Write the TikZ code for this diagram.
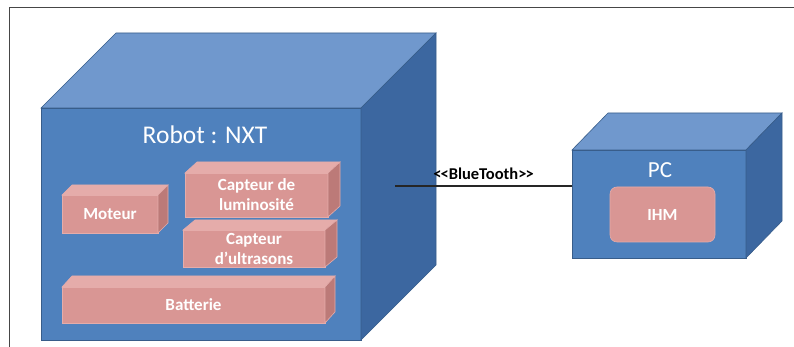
\documentclass[tikz,border=0pt]{standalone}
\usepackage{fontspec}
\setmainfont{Carlito}
\usetikzlibrary{calc,positioning}
\definecolor{frontB}{RGB}{79,129,189}
\definecolor{topB}{RGB}{112,152,205}
\definecolor{sideB}{RGB}{60,103,160}
\definecolor{edgeB}{RGB}{56,93,138}
\definecolor{frontP}{RGB}{217,150,148}
\definecolor{topP}{RGB}{229,172,170}
\definecolor{sideP}{RGB}{188,122,120}
\definecolor{frameC}{RGB}{70,70,70}
\tikzset{
  cube/.style={draw=edgeB,fill=frontB,line width=0.8pt,inner sep=0pt,outer sep=0pt},
  part/.style={draw=topP,fill=frontP,line width=0.6pt,inner sep=0pt,outer sep=0pt,
    text=white,align=center,font=\fontsize{17}{20}\selectfont\bfseries},
  title/.style={text=white,font=\fontsize{25.5}{30}\selectfont},
  link/.style={line width=1.2pt,black!85},
}
% top and right faces of a box drawn on node #1, depth (#2,#3), colours #4
\newcommand{\boxfaces}[5]{%
  \filldraw[fill=top#4,draw=#5,line width=0.6pt] (#1.north west) -- ++(#2,#3)
    -- ($(#1.north east)+(#2,#3)$) -- (#1.north east) -- cycle;
  \filldraw[fill=side#4,draw=#5,line width=0.6pt] (#1.north east) -- ++(#2,#3)
    -- ($(#1.south east)+(#2,#3)$) -- (#1.south east) -- cycle;
}
\begin{document}
\begin{tikzpicture}[x=1pt,y=1pt]
  \useasboundingbox (0,0) rectangle (794,347);
  \draw[frameC,line width=1pt] (9,0) -- (9,339) -- (794,339);
  % robot node
  \node[cube,minimum width=320pt,minimum height=232pt] (robot) at (201,123) {};
  \boxfaces{robot}{75}{75}{B}{edgeB}
  \node[title] (robotT) at (205,212) {Robot : NXT};
  \node[part,minimum width=96pt,minimum height=38pt] (mot) at (110,133) {Moteur};
  \boxfaces{mot}{10}{10}{P}{topP}
  \node[part,minimum width=143pt,minimum height=44pt] (lum) at (256.5,152)
    {Capteur de\\luminosité};
  \boxfaces{lum}{12}{11}{P}{topP}
  \node[part,minimum width=142pt,minimum height=37pt] (ultra) at (254,98.5)
    {Capteur\\d’ultrasons};
  \boxfaces{ultra}{12}{10}{P}{topP}
  \node[part,minimum width=263pt,minimum height=36pt] (bat) at (193.5,42) {Batterie};
  \boxfaces{bat}{10}{11}{P}{topP}
  % pc node
  \node[cube,minimum width=174pt,minimum height=108pt] (pc) at (659,143) {};
  \boxfaces{pc}{36}{37}{B}{edgeB}
  \node[title,font=\fontsize{23}{27}\selectfont] (pcT) at (660,177) {PC};
  \node[part,rounded corners=7pt,minimum width=105pt,minimum height=55pt] (ihm)
    at (662.5,132.5) {IHM};
  % bluetooth link
  \coordinate (bt) at (395,161);
  \draw[link] (bt) -- node[above=2pt,text=black,font=\fontsize{16.5}{19}\selectfont\bfseries]
    {<\kern-1pt<BlueTooth>\kern-1pt>} (bt -| pc.west);
\end{tikzpicture}
\end{document}
